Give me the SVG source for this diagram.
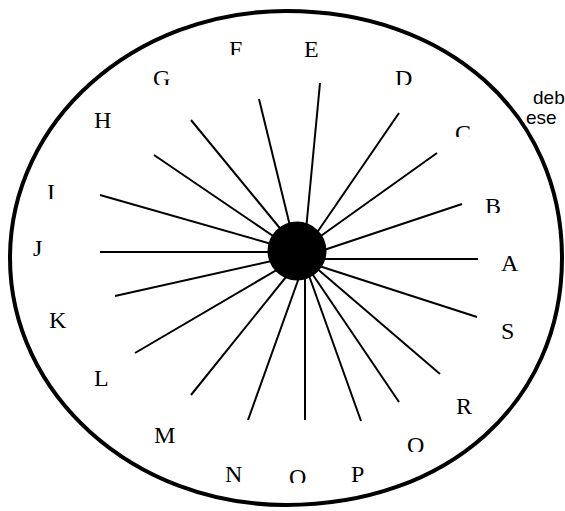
<svg xmlns="http://www.w3.org/2000/svg" width="565" height="511" viewBox="0 0 565 511">
<style>
.lbl{font-family:"Liberation Serif","Times New Roman",serif;font-size:24px;fill:#000}
.note{font-family:"Liberation Sans",Arial,sans-serif;font-size:19px;fill:#000}
.spoke{stroke:#000;stroke-width:2;fill:none}
.rim{stroke:#000;stroke-width:4;fill:none}
</style>
<defs>
<clipPath id="cF"><rect x="220" y="30" width="40" height="25"/></clipPath>
<clipPath id="cG"><rect x="145" y="60" width="40" height="25"/></clipPath>
<clipPath id="cD"><rect x="385" y="60" width="40" height="25"/></clipPath>
<clipPath id="cC"><rect x="445" y="115" width="40" height="22"/></clipPath>
<clipPath id="cI"><rect x="40" y="175" width="30" height="24"/></clipPath>
<clipPath id="cB"><rect x="475" y="190" width="40" height="23"/></clipPath>
<clipPath id="cJ"><rect x="25" y="230" width="30" height="26"/></clipPath>
<clipPath id="cS"><rect x="495" y="315" width="30" height="24"/></clipPath>
<clipPath id="cQ"><rect x="400" y="425" width="40" height="27"/></clipPath>
<clipPath id="cO"><rect x="280" y="460" width="40" height="23"/></clipPath>
</defs>
<g id="note">
<text class="note" x="533" y="104">deb</text>
<text class="note" x="526" y="124">ese</text>
</g>
<g id="rim"><path class="rim" d="M286,11 C447.5,11 562,113.5 562,258 C562,402.5 447.5,505 286,505 C133.6,505 10,394.4 10,258 C10,121.6 133.6,11 286,11 Z"/></g>
<g id="connectors">
<line class="spoke" x1="320" y1="83" x2="306" y2="230"/>
<line class="spoke" x1="259" y1="99" x2="291" y2="230"/>
<line class="spoke" x1="191" y1="120" x2="283" y2="232"/>
<line class="spoke" x1="154" y1="155" x2="279" y2="240"/>
<line class="spoke" x1="399" y1="113" x2="316" y2="234"/>
<line class="spoke" x1="437" y1="153" x2="318" y2="238"/>
<line class="spoke" x1="100" y1="195" x2="275" y2="245"/>
<line class="spoke" x1="462" y1="204" x2="318" y2="252"/>
<line class="spoke" x1="100" y1="252" x2="275" y2="252"/>
<line class="spoke" x1="478" y1="259" x2="318" y2="259"/>
<line class="spoke" x1="115" y1="296" x2="276" y2="260"/>
<line class="spoke" x1="477" y1="317" x2="316" y2="265"/>
<line class="spoke" x1="135" y1="353" x2="280" y2="268"/>
<line class="spoke" x1="440" y1="374" x2="314" y2="266"/>
<line class="spoke" x1="191" y1="395" x2="290" y2="272"/>
<line class="spoke" x1="399" y1="402" x2="311" y2="272"/>
<line class="spoke" x1="248" y1="420" x2="301" y2="272"/>
<line class="spoke" x1="305" y1="420" x2="305" y2="265"/>
<line class="spoke" x1="361" y1="421" x2="307" y2="270"/>
</g>
<g id="hub"><circle cx="297" cy="251" r="29.5" fill="#000"/></g>
<g id="A"><text class="lbl" x="501" y="271">A</text></g>
<g id="B"><text class="lbl" x="485" y="214" clip-path="url(#cB)">B</text></g>
<g id="C"><text class="lbl" x="455" y="141" clip-path="url(#cC)">C</text></g>
<g id="D"><text class="lbl" x="395" y="86" clip-path="url(#cD)">D</text></g>
<g id="E"><text class="lbl" x="304" y="57">E</text></g>
<g id="F"><text class="lbl" x="229" y="57" clip-path="url(#cF)">F</text></g>
<g id="G"><text class="lbl" x="153" y="86" clip-path="url(#cG)">G</text></g>
<g id="H"><text class="lbl" x="94" y="128">H</text></g>
<g id="I"><text class="lbl" x="47" y="200" clip-path="url(#cI)">I</text></g>
<g id="J"><text class="lbl" x="33" y="256" clip-path="url(#cJ)">J</text></g>
<g id="K"><text class="lbl" x="49" y="328">K</text></g>
<g id="L"><text class="lbl" x="94" y="386">L</text></g>
<g id="M"><text class="lbl" x="154" y="443">M</text></g>
<g id="N"><text class="lbl" x="225" y="482">N</text></g>
<g id="O"><text class="lbl" x="289" y="485" clip-path="url(#cO)">O</text></g>
<g id="P"><text class="lbl" x="351" y="482">P</text></g>
<g id="Q"><text class="lbl" x="407" y="453" clip-path="url(#cQ)">Q</text></g>
<g id="R"><text class="lbl" x="456" y="414">R</text></g>
<g id="S"><text class="lbl" x="501" y="339" clip-path="url(#cS)">S</text></g>
</svg>
